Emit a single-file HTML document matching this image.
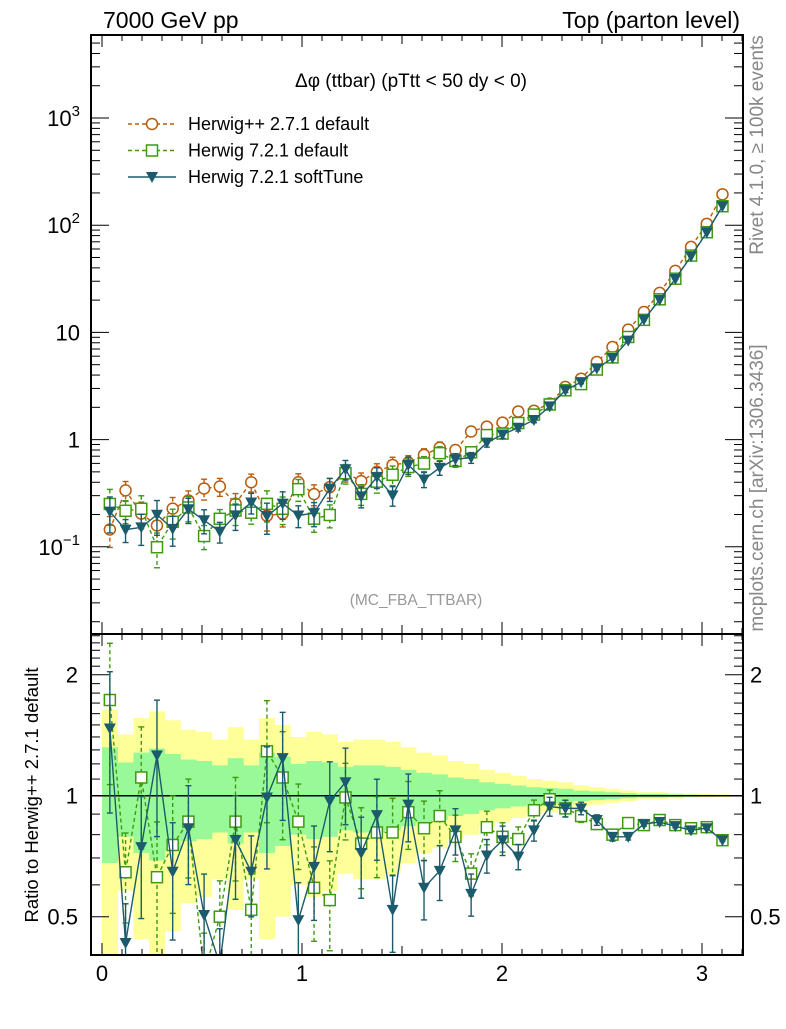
<!DOCTYPE html>
<html><head><meta charset="utf-8"><style>
body{margin:0;background:#fff;width:786px;height:1024px;overflow:hidden}
svg{font-family:"Liberation Sans",sans-serif}
</style></head><body>
<svg id="c" width="786" height="1024" viewBox="0 0 786 1024" xmlns="http://www.w3.org/2000/svg"></svg>
<script>
// ---- data ----
const herwigPP = [0.145,0.336,0.204,0.158,0.227,0.27,0.35,0.365,0.253,0.40,0.195,0.204,0.40,0.31,0.36,0.49,0.41,0.50,0.58,0.61,0.72,0.84,0.80,1.19,1.32,1.44,1.83,1.86,2.17,3.1,3.7,5.3,7.3,10.6,15.5,23.4,37.5,62.7,103,194];
const ratioDefault = [1.73,0.645,1.11,0.627,0.754,0.862,0.36,0.50,0.862,0.52,1.29,1.11,0.862,0.59,0.55,0.99,0.76,0.81,0.81,0.91,0.83,0.89,0.79,0.64,0.835,0.79,0.78,0.92,0.98,0.93,0.89,0.85,0.80,0.855,0.845,0.87,0.845,0.83,0.835,0.775];
const ratioSoft = [1.47,0.43,0.745,1.26,0.647,0.83,0.505,0.38,0.776,0.647,0.99,1.24,0.49,0.665,0.97,1.08,0.72,0.895,0.52,0.95,0.59,0.65,0.82,0.57,0.71,0.775,0.705,0.82,0.94,0.93,0.93,0.87,0.79,0.79,0.85,0.86,0.84,0.82,0.83,0.775];
const relErr = [0.32,0.21,0.28,0.31,0.27,0.23,0.22,0.19,0.24,0.19,0.28,0.25,0.20,0.22,0.21,0.18,0.19,0.19,0.18,0.16,0.14,0.13,0.11,0.10,0.08,0.07,0.06,0.05,0.045,0.04,0.03,0.025,0.02,0.015,0.01,0.01,0.008,0.006,0.005,0.004];
const xTicks = [0,1,2,3];
const mainTicks = [3,2,1,0,-1];
const ratioTicks = [0.5,1,2];
// ---- layout ----
const L=91,R=743,T=35,MB=634,RB=955;
const X=v=>102+200*v;
const Y=v=>439.6-107.2*Math.log10(v);
const RY=v=>795.7-121*Math.log2(v);
const NS="http://www.w3.org/2000/svg";
const svg=document.getElementById('c');
function mk(tag,attrs,parent){const e=document.createElementNS(NS,tag);for(const k in attrs)e.setAttribute(k,attrs[k]);(parent||svg).appendChild(e);return e;}
const defs=mk('defs',{});
const cp1=mk('clipPath',{id:'cm'},defs);mk('rect',{x:L,y:T,width:R-L,height:MB-T},cp1);
const cp2=mk('clipPath',{id:'cr'},defs);mk('rect',{x:L,y:MB,width:R-L,height:RB-MB},cp2);
const N=herwigPP.length,w=Math.PI/N;
const cx=i=>X((i+0.5)*w);
const OR='#b85c0e',GR='#3f9a0f',TL='#1c5b6c';

// bands
const gb=mk('g',{'clip-path':'url(#cr)'});


for(let i=0;i<N;i++){
  const x0=X(i*w),x1=X((i+1)*w);
  const yb=mk('rect',{x:x0,y:RY(1+2*relErr[i]),width:x1-x0+0.3,height:RY(Math.max(0.05,1-2*relErr[i]))-RY(1+2*relErr[i]),fill:'#ffff99'},gb);
  
}
for(let i=0;i<N;i++){
  const x0=X(i*w),x1=X((i+1)*w);
  const g=mk('rect',{x:x0,y:RY(1+relErr[i]),width:x1-x0+0.3,height:RY(1-relErr[i])-RY(1+relErr[i]),fill:'#99f999'},gb);
  
}
mk('line',{x1:L,x2:R,y1:RY(1),y2:RY(1),stroke:'#000','stroke-width':1.5});

function series(vals,errs,yf,color,dash,marker,name,clip){
  const g=mk('g',{'clip-path':clip});
  
  
  let pts=vals.map((v,i)=>cx(i)+','+yf(v)).join(' ');
  mk('polyline',{points:pts,fill:'none',stroke:color,'stroke-width':1.4,'stroke-dasharray':dash},g);
  vals.forEach((v,i)=>{
    const e=errs[i],x=cx(i);
    const y1=yf(v*(1+e)),y2=yf(Math.max(v*(1-e),1e-6));
    mk('line',{x1:x,x2:x,y1:y1,y2:y2,stroke:color,'stroke-width':1.4,'stroke-dasharray':dash},g);
    mk('line',{x1:x-3,x2:x+3,y1:y1,y2:y1,stroke:color,'stroke-width':1.4},g);
    mk('line',{x1:x-3,x2:x+3,y1:y2,y2:y2,stroke:color,'stroke-width':1.4},g);
    const y=yf(v);let m;
    if(marker==='o')m=mk('circle',{cx:x,cy:y,r:5.5,fill:'#fff',stroke:color,'stroke-width':1.5},g);
    else if(marker==='s')m=mk('rect',{x:x-5.5,y:y-5.5,width:11,height:11,fill:'#fff',stroke:color,'stroke-width':1.5},g);
    else m=mk('polygon',{points:`${x-6},${y-5} ${x+6},${y-5} ${x},${y+6}`,fill:color},g);
    
    
  });
}
const dVals=herwigPP.map((v,i)=>v*ratioDefault[i]);
const sVals=herwigPP.map((v,i)=>v*ratioSoft[i]);
series(herwigPP,relErr,Y,OR,'4,3','o','herwigpp-series','url(#cm)');
series(dVals,relErr.map(e=>e*1.15),Y,GR,'4,3','s','herwig721-default-series','url(#cm)');
series(sVals,relErr.map(e=>e*1.15),Y,TL,'none','v','herwig721-softtune-series','url(#cm)');
series(ratioDefault,relErr.map(e=>e*1.2),RY,GR,'4,3','s','ratio-default-series','url(#cr)');
series(ratioSoft,relErr.map(e=>e*1.2),RY,TL,'none','v','ratio-softtune-series','url(#cr)');

// frames
mk('rect',{x:L,y:T,width:R-L,height:MB-T,fill:'none',stroke:'#000','stroke-width':2});
mk('rect',{x:L,y:MB,width:R-L,height:RB-MB,fill:'none',stroke:'#000','stroke-width':2});
// x ticks
for(let k=0;k<=32;k++){const v=k/10,x=X(v);const len=k%10===0?12:(k%5===0?9:6);
  mk('line',{x1:x,x2:x,y1:RB,y2:RB-len,stroke:'#000'});
  mk('line',{x1:x,x2:x,y1:MB,y2:MB-len,stroke:'#000'});
  mk('line',{x1:x,x2:x,y1:T,y2:T+len,stroke:'#000'});
  mk('line',{x1:x,x2:x,y1:MB,y2:MB+len,stroke:'#000'});}
xTicks.forEach(v=>{const t=mk('text',{x:X(v),y:981,'font-size':22,'text-anchor':'middle'});t.textContent=v;
  });
// main y ticks
for(let d=-2;d<=3;d++)for(let m=1;m<=9;m++){const v=m*Math.pow(10,d),y=Y(v);if(y<T||y>MB)continue;const len=m===1?18:9;
  mk('line',{x1:L,x2:L+len,y1:y,y2:y,stroke:'#000'});mk('line',{x1:R,x2:R-len,y1:y,y2:y,stroke:'#000'});}
const labs={3:['10','3'],2:['10','2'],1:['10',''],0:['1',''],'-1':['10','−1']};
mainTicks.forEach(p=>{const t=mk('text',{x:80,y:Y(Math.pow(10,p))+8,'font-size':22,'text-anchor':'end'});
  
  const lb=labs[p];t.textContent=lb[0];
  if(lb[1]){const s=mk('tspan',{'font-size':15,dy:-10},t);s.textContent=lb[1];}});
// ratio ticks
for(let k=3;k<=25;k++){const v=k/10,y=RY(v);if(y<MB||y>RB)continue;const len=(v===0.5||v===1||v===2)?18:9;
  mk('line',{x1:L,x2:L+len,y1:y,y2:y,stroke:'#000'});mk('line',{x1:R,x2:R-len,y1:y,y2:y,stroke:'#000'});}
ratioTicks.forEach(v=>{[[78,'end'],[750,'start']].forEach(([x,a])=>{const t=mk('text',{x:x,y:RY(v)+8,'font-size':22,'text-anchor':a});t.textContent=v;
  });});
// texts
function txt(s,attrs,name){const t=mk('text',attrs);t.textContent=s;return t;}
txt('7000 GeV pp',{x:103,y:28,'font-size':23},'beam-label');
txt('Top (parton level)',{x:740,y:28,'font-size':23,'text-anchor':'end'},'process-label');
txt('Δφ (ttbar) (pTtt < 50 dy < 0)',{x:411,y:87,'font-size':19,'text-anchor':'middle'},'plot-title');
txt('(MC_FBA_TTBAR)',{x:416,y:605,'font-size':15.5,'text-anchor':'middle',fill:'#999'},'analysis-label');
txt('Rivet 4.1.0, ≥ 100k events',{x:0,y:0,'font-size':19,fill:'#888','text-anchor':'middle',transform:'translate(763,145) rotate(-90)'},'rivet-label');
txt('mcplots.cern.ch [arXiv:1306.3436]',{x:0,y:0,'font-size':19,fill:'#888','text-anchor':'middle',transform:'translate(763,488) rotate(-90)'},'mcplots-label');
txt('Ratio to Herwig++ 2.7.1 default',{x:0,y:0,'font-size':18.5,'text-anchor':'middle',transform:'translate(38,795) rotate(-90)'},'ratio-y-axis-title');
// legend
const leg=[['Herwig++ 2.7.1 default',OR,'4,3','o'],['Herwig 7.2.1 default',GR,'4,3','s'],['Herwig 7.2.1 softTune',TL,'none','v']];
leg.forEach((e,i)=>{const y=124+i*26.5;const g=mk('g',{});
  mk('line',{x1:128,x2:176,y1:y,y2:y,stroke:e[1],'stroke-width':1.4,'stroke-dasharray':e[2]},g);
  const x=152;
  if(e[3]==='o')mk('circle',{cx:x,cy:y,r:5.5,fill:'#fff',stroke:e[1],'stroke-width':1.5},g);
  else if(e[3]==='s')mk('rect',{x:x-5.5,y:y-5.5,width:11,height:11,fill:'#fff',stroke:e[1],'stroke-width':1.5},g);
  else mk('polygon',{points:`${x-6},${y-5} ${x+6},${y-5} ${x},${y+6}`,fill:e[1]},g);
  const t=mk('text',{x:188,y:y+6,'font-size':18},g);t.textContent=e[0];});
</script>
</body></html>
